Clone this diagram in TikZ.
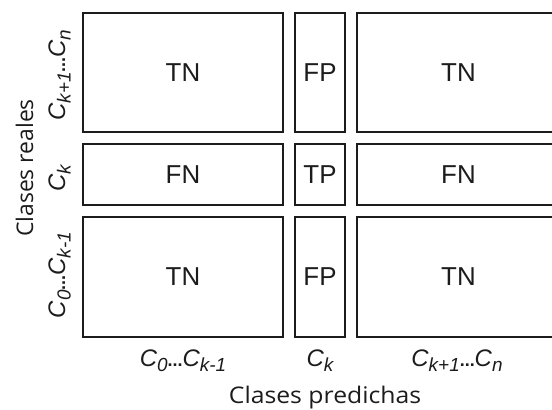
\documentclass[tikz,border=0pt]{standalone}
\usepackage{fontspec}
\setmainfont{Liberation Sans}
\newfontfamily\labfont{Open Sans}
\definecolor{ink}{HTML}{1C1C1C}
\newcommand\sbs[1]{\raisebox{-5.5bp}{\fontsize{19}{19}\selectfont #1}}
\newcommand\dts{{\fontsize{18}{18}\selectfont\upshape\bfseries ...}}
\begin{document}
\begin{tikzpicture}[x=1bp,y=-1bp,
  cell/.style={draw=ink, line width=1.7bp, text=ink, inner sep=0pt,
    font=\fontsize{26}{26}\selectfont},
  clab/.style={text=ink, inner sep=0pt, anchor=base,
    font=\fontsize{24}{24}\selectfont\itshape},
  axlab/.style={text=ink, inner sep=0pt, anchor=base,
    font=\labfont\fontsize{23}{23}\selectfont}]
\useasboundingbox (0,0) rectangle (552,409);
% cells: columns x [83,283] [295,345] [357,560]; rows y [13,132] [144,205] [217,337]
\node[cell, minimum width=200bp, minimum height=119bp] (a1) at (183,72.5) {TN};
\node[cell, minimum width=50bp,  minimum height=119bp] (a2) at (320,72.5) {FP};
\node[cell, minimum width=203bp, minimum height=119bp] (a3) at (458.5,72.5) {TN};
\node[cell, minimum width=200bp, minimum height=61bp] (b1) at (183,174.5) {FN};
\node[cell, minimum width=50bp,  minimum height=61bp] (b2) at (320,174.5) {TP};
\node[cell, minimum width=203bp, minimum height=61bp] (b3) at (458.5,174.5) {FN};
\node[cell, minimum width=200bp, minimum height=120bp] (c1) at (183,277) {TN};
\node[cell, minimum width=50bp,  minimum height=120bp] (c2) at (320,277) {FP};
\node[cell, minimum width=203bp, minimum height=120bp] (c3) at (458.5,277) {TN};
% column labels
\node[clab] (p1) at (183,366) {C\sbs{0}\dts C\sbs{k-1}};
\node[clab] (p2) at (320,366) {C\sbs{k}};
\node[clab] (p3) at (457,366) {C\sbs{k+1}\dts C\sbs{n}};
\node[axlab, xscale=1.08] (px) at (325,403) {Clases predichas};
% row labels
\node[clab, rotate=90] (r1) at (65,75) {C\sbs{k+1}\dts C\sbs{n}};
\node[clab, rotate=90] (r2) at (65,178) {C\sbs{k}};
\node[clab, rotate=90] (r3) at (65,275) {C\sbs{0}\dts C\sbs{k-1}};
\node[axlab, rotate=90] (ry) at (33,168) {Clases reales};
\end{tikzpicture}
\end{document}
